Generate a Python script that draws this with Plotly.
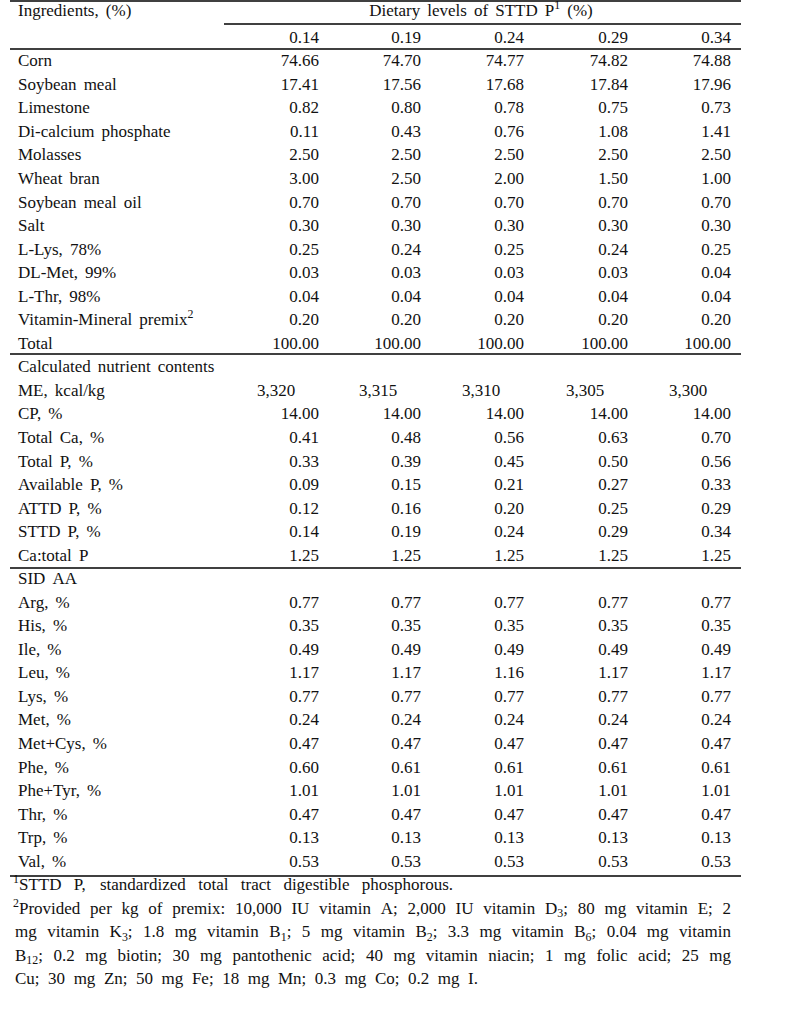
import re
import plotly.graph_objects as go

# ---------------- data ----------------
levels = ["0.14", "0.19", "0.24", "0.29", "0.34"]

ingredients = ["Corn", "Soybean meal", "Limestone", "Di-calcium phosphate", "Molasses",
               "Wheat bran", "Soybean meal oil", "Salt", "L-Lys, 78%", "DL-Met, 99%",
               "L-Thr, 98%", "Vitamin-Mineral premix<sup>2</sup>", "Total"]
ing_0_14 = ["74.66", "17.41", "0.82", "0.11", "2.50", "3.00", "0.70", "0.30", "0.25", "0.03", "0.04", "0.20", "100.00"]
ing_0_19 = ["74.70", "17.56", "0.80", "0.43", "2.50", "2.50", "0.70", "0.30", "0.24", "0.03", "0.04", "0.20", "100.00"]
ing_0_24 = ["74.77", "17.68", "0.78", "0.76", "2.50", "2.00", "0.70", "0.30", "0.25", "0.03", "0.04", "0.20", "100.00"]
ing_0_29 = ["74.82", "17.84", "0.75", "1.08", "2.50", "1.50", "0.70", "0.30", "0.24", "0.03", "0.04", "0.20", "100.00"]
ing_0_34 = ["74.88", "17.96", "0.73", "1.41", "2.50", "1.00", "0.70", "0.30", "0.25", "0.04", "0.04", "0.20", "100.00"]

me_label = "ME, kcal/kg"
me_values = ["3,320", "3,315", "3,310", "3,305", "3,300"]

nutrients = ["CP, %", "Total Ca, %", "Total P, %", "Available P, %", "ATTD P, %", "STTD P, %", "Ca:total P"]
nut_0_14 = ["14.00", "0.41", "0.33", "0.09", "0.12", "0.14", "1.25"]
nut_0_19 = ["14.00", "0.48", "0.39", "0.15", "0.16", "0.19", "1.25"]
nut_0_24 = ["14.00", "0.56", "0.45", "0.21", "0.20", "0.24", "1.25"]
nut_0_29 = ["14.00", "0.63", "0.50", "0.27", "0.25", "0.29", "1.25"]
nut_0_34 = ["14.00", "0.70", "0.56", "0.33", "0.29", "0.34", "1.25"]

amino = ["Arg, %", "His, %", "Ile, %", "Leu, %", "Lys, %", "Met, %", "Met+Cys, %", "Phe, %",
         "Phe+Tyr, %", "Thr, %", "Trp, %", "Val, %"]
aa_0_14 = ["0.77", "0.35", "0.49", "1.17", "0.77", "0.24", "0.47", "0.60", "1.01", "0.47", "0.13", "0.53"]
aa_0_19 = ["0.77", "0.35", "0.49", "1.17", "0.77", "0.24", "0.47", "0.61", "1.01", "0.47", "0.13", "0.53"]
aa_0_24 = ["0.77", "0.35", "0.49", "1.16", "0.77", "0.24", "0.47", "0.61", "1.01", "0.47", "0.13", "0.53"]
aa_0_29 = ["0.77", "0.35", "0.49", "1.17", "0.77", "0.24", "0.47", "0.61", "1.01", "0.47", "0.13", "0.53"]
aa_0_34 = ["0.77", "0.35", "0.49", "1.17", "0.77", "0.24", "0.47", "0.61", "1.01", "0.47", "0.13", "0.53"]

header_left = "Ingredients, (%)"
header_span = "Dietary levels of STTD P<sup>1</sup> (%)"
section_calc = "Calculated nutrient contents"
section_aa = "SID AA"

footnotes = [
    "<sup>1</sup>STTD P, standardized total tract digestible phosphorous.",
    "<sup>2</sup>Provided per kg of premix: 10,000 IU vitamin A; 2,000 IU vitamin D<sub>3</sub>; 80 mg vitamin E; 2",
    "mg vitamin K<sub>3</sub>; 1.8 mg vitamin B<sub>1</sub>; 5 mg vitamin B<sub>2</sub>; 3.3 mg vitamin B<sub>6</sub>; 0.04 mg vitamin",
    "B<sub>12</sub>; 0.2 mg biotin; 30 mg pantothenic acid; 40 mg vitamin niacin; 1 mg folic acid; 25 mg",
    "Cu; 30 mg Zn; 50 mg Fe; 18 mg Mn; 0.3 mg Co; 0.2 mg I.",
]

# ---------------- layout helpers ----------------
W, H = 801, 1023
ROW0_PX, PITCH = 15.0, 23.54   # pixel centre of row 0 and row pitch
HEADER_ROW = -0.12             # the header line sits a little higher than the body grid
FONT = "Liberation Serif, Times New Roman, serif"
FS = 17
COLOR = "#111111"
WSP = " \u2006"                # slightly wider word space, as in the source typeface


def row_of_px(px):
    return (px - ROW0_PX) / PITCH


def widen(s):
    return s.replace(" ", WSP)


# approximate Times / Liberation Serif advance widths (per 1000 em)
_W = {' ': 250, '.': 250, ',': 250, ';': 278, ':': 278, '(': 333, ')': 333, '%': 833, '-': 333,
      '+': 564, '/': 278}
for ch in "0123456789":
    _W[ch] = 500
_W.update(dict(zip("abcdefghijklmnopqrstuvwxyz",
                   [444, 500, 444, 500, 444, 333, 500, 500, 278, 278, 500, 278, 778, 500, 500, 500,
                    500, 333, 389, 278, 500, 500, 722, 500, 500, 444])))
_W.update(dict(zip("ABCDEFGHIJKLMNOPQRSTUVWXYZ",
                   [722, 667, 667, 722, 611, 556, 722, 722, 333, 389, 722, 611, 889, 722, 722, 556,
                    722, 667, 556, 611, 722, 722, 944, 722, 722, 611])))


def text_width(s, size):
    total = 0.0
    for part in re.split(r"(<su[bp]>.*?</su[bp]>)", s):
        if not part:
            continue
        m = re.match(r"<su[bp]>(.*?)</su[bp]>", part)
        if m:
            total += sum(_W.get(c, 500) for c in m.group(1)) * 0.7
        else:
            total += sum(_W.get(c, 500) for c in part)
    return total * size / 1000.0


col_right = [319, 421, 524, 628, 731]
label_x = 18
me_offset = 62
fn_left = [13, 13, 15, 15, 15]
fn_right = [453, 731, 731, 731, 478]

ing_cols = [ing_0_14, ing_0_19, ing_0_24, ing_0_29, ing_0_34]
nut_cols = [nut_0_14, nut_0_19, nut_0_24, nut_0_29, nut_0_34]
aa_cols = [aa_0_14, aa_0_19, aa_0_24, aa_0_29, aa_0_34]

# row indices
r_levels = 1
r_ing = list(range(2, 2 + len(ingredients)))
r_calc = r_ing[-1] + 1
r_me = r_calc + 1
r_nut = list(range(r_me + 1, r_me + 1 + len(nutrients)))
r_aa_head = r_nut[-1] + 1
r_aa = list(range(r_aa_head + 1, r_aa_head + 1 + len(amino)))
r_fn = list(range(r_aa[-1] + 1, r_aa[-1] + 1 + len(footnotes)))

fig = go.Figure()
tf = dict(family=FONT, size=FS, color=COLOR)


def add_text(xs, ys, texts, pos):
    fig.add_trace(go.Scatter(x=xs, y=ys, text=texts, mode="text", textposition=pos,
                             textfont=tf, hoverinfo="skip", showlegend=False,
                             cliponaxis=False))


# left labels
labels = [header_left] + ingredients + [section_calc, me_label] + nutrients + [section_aa] + amino
label_rows = [HEADER_ROW] + r_ing + [r_calc, r_me] + r_nut + [r_aa_head] + r_aa
add_text([label_x] * len(labels), label_rows, [widen(t) for t in labels], "middle right")

# numeric columns (right aligned)
for i in range(5):
    vals = [levels[i]] + ing_cols[i] + nut_cols[i] + aa_cols[i]
    rows = [r_levels] + r_ing + r_nut + r_aa
    add_text([col_right[i]] * len(vals), rows, vals, "middle left")

# ME row (left aligned in the source)
add_text([c - me_offset for c in col_right], [r_me] * 5, me_values, "middle right")

# spanning header
add_text([481], [HEADER_ROW], [widen(header_span)], "middle center")

# footnotes, laid out word by word (justified like the source)
fx, fy, ft = [], [], []
for k, line in enumerate(footnotes):
    words = line.split(" ")
    widths = [text_width(w, FS) for w in words]
    gap = (fn_right[k] - fn_left[k] - sum(widths)) / max(len(words) - 1, 1)
    x = fn_left[k]
    for w, wd in zip(words, widths):
        fx.append(x)
        fy.append(r_fn[k])
        ft.append(w)
        x += wd + gap
add_text(fx, fy, ft, "middle right")

# rules
x0, x1 = 10, 741
rules = [(x0, 1), (224, 24), (x0, 49), (x0, 354), (x0, 568), (x0, 876)]
for xs, py in rules:
    fig.add_shape(type="line", x0=xs, x1=x1, y0=row_of_px(py), y1=row_of_px(py),
                  xref="x", yref="y", line=dict(color="#000000", width=1.3))

fig.update_layout(
    width=W, height=H,
    margin=dict(l=0, r=0, t=0, b=0),
    paper_bgcolor="white", plot_bgcolor="white",
    xaxis=dict(range=[0, W], visible=False, fixedrange=True),
    yaxis=dict(range=[row_of_px(H), row_of_px(0)], visible=False, fixedrange=True),
)

# remove the browser's default 8px page margin so the figure sits at the window origin
fig.write_html("out.html", config={"displayModeBar": False},
               post_script="document.body.style.margin='0px';")
